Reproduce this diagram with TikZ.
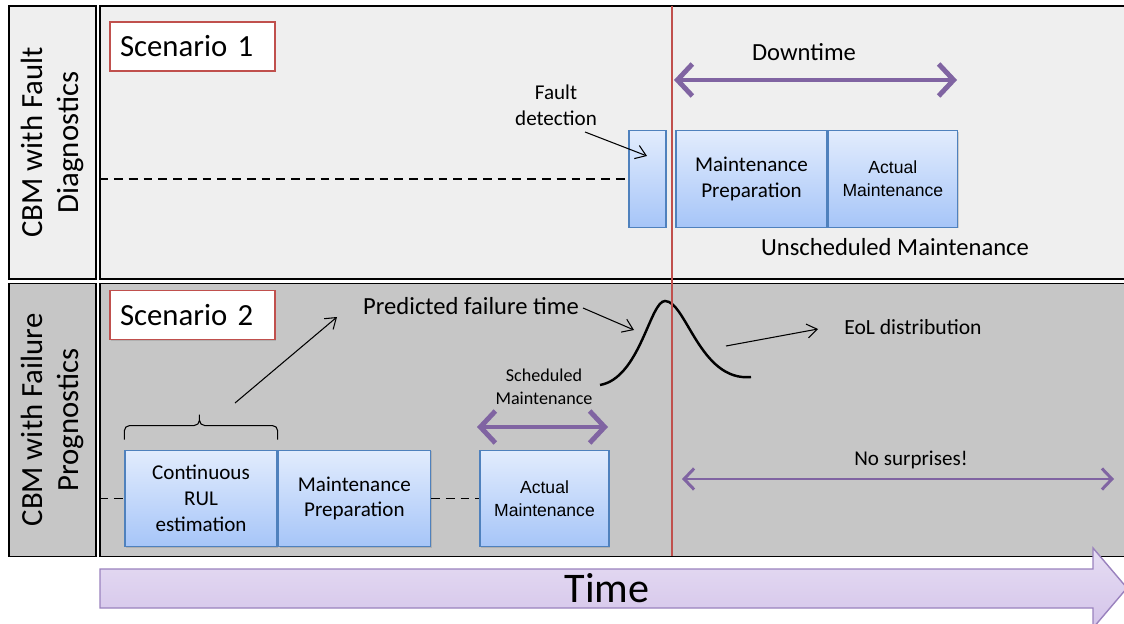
\documentclass[tikz,border=0pt]{standalone}
\usepackage{fontspec}
\setmainfont{Carlito}
\newfontfamily\boxfont{Liberation Sans}
\usetikzlibrary{arrows.meta,calc,positioning,shadows}
\definecolor{failred}{HTML}{C0504D}
\definecolor{tlpurple}{HTML}{8064A2}
\definecolor{blkedge}{HTML}{4F81BD}
\definecolor{blktop}{HTML}{E2ECFD}
\definecolor{blkbot}{HTML}{A6C5F8}
\definecolor{lightpanel}{HTML}{EFEFEF}
\definecolor{darkpanel}{HTML}{C6C6C6}
\definecolor{timetop}{HTML}{E6DDF3}
\definecolor{timebot}{HTML}{D4C4EA}
\definecolor{timeedge}{HTML}{9A82BE}
\tikzset{
  >={Straight Barb[length=2mm,width=2.8mm]},
  panel/.style={draw,line width=1pt,inner sep=0pt,minimum height=5.46cm},
  lab/.style={panel,minimum width=5.46cm,minimum height=1.74cm,rotate=90,align=center,font=\fontsize{17.5}{21}\selectfont},
  scen/.style={draw=failred,line width=0.8pt,fill=white,minimum width=3.3cm,minimum height=0.98cm,
    text width=2.9cm,align=left,font=\fontsize{17.5}{21}\selectfont,
    drop shadow={shadow xshift=0.6pt,shadow yshift=-0.6pt,opacity=0.3}},
  blk/.style={draw=blkedge,line width=0.8pt,top color=blktop,bottom color=blkbot,minimum height=1.93cm,
    inner sep=0pt,align=center,font=\fontsize{12}{14.7}\selectfont,
    drop shadow={shadow xshift=0.7pt,shadow yshift=-0.7pt,opacity=0.3}},
  act/.style={blk,minimum width=2.58cm,font=\boxfont\fontsize{10}{13}\selectfont},
  txt/.style={align=center,inner sep=0pt},
  dline/.style={dash pattern=on 5pt off 3.4pt,line width=1.1pt},
  ptr/.style={->,line width=0.6pt},
  wide/.style={tlpurple,line width=2.8pt,{Straight Barb[length=3mm,width=6.4mm]}-{Straight Barb[length=3mm,width=6.4mm]}},
  span/.style={tlpurple,line width=1.7pt,{Straight Barb[length=2mm,width=4.2mm]}-{Straight Barb[length=2mm,width=4.2mm]}},
}
\begin{document}
\begin{tikzpicture}[x=0.02cm,y=-0.02cm]
\useasboundingbox[fill=white] (0,0) rectangle (1124,624);
% the two scenario bands
\node[lab,fill=lightpanel] (lab1) at (52.5,142.5) {CBM with Fault\\Diagnostics};
\node[lab,fill=darkpanel] (lab2) at (52.5,420) {CBM with Failure\\Prognostics};
\node[panel,fill=lightpanel,minimum width=20.6cm] (pan1) at (615,142.5) {};
\node[panel,fill=darkpanel,minimum width=20.6cm] (pan2) at (615,420) {};
\node[scen] (sc1) at (192.5,46.5) {Scenario 1};
\node[scen] (sc2) at (192.5,315) {Scenario 2};

% scenario 1
\node[blk,minimum width=0.74cm] (fd) at (647.5,179) {};
\node[blk,minimum width=3.02cm] (mp1) at (751.5,179) {Maintenance\\Preparation};
\node[act,right=0pt of mp1] (am1) {Actual\\Maintenance};
\draw[dline] (pan1.west |- fd.west) -- (fd.west);
\node[txt,font=\fontsize{14}{17}\selectfont] (dtl) at (804,52) {Downtime};
\node[txt,font=\fontsize{12}{14.7}\selectfont] (fdl) at (556,105) {Fault\\detection};
\node[txt,font=\fontsize{14}{17}\selectfont] (usm) at (895,247) {Unscheduled Maintenance};
\coordinate (dt1) at (674,80);
\coordinate (dt2) at (957,80);
\draw[wide] (dt1) -- (dt2);
\coordinate (fa1) at (585,132);
\coordinate (fa2) at (647,156);
\draw[ptr] (fa1) -- (fa2);

% scenario 2
\node[blk,minimum width=3.04cm] (rul) at (201,498.5) {Continuous\\RUL\\estimation};
\node[blk,minimum width=3.04cm,right=0pt of rul] (mp2) {Maintenance\\Preparation};
\node[act] (am2) at (544.5,498.5) {Actual\\Maintenance};
\draw[dline] (pan2.west |- rul.west) -- (rul.west);
\draw[dline] (mp2.east) -- (am2.west);
% square brace over the RUL block
\coordinate (br1) at ([yshift=5.7pt]rul.north west);
\coordinate (br2) at ([yshift=5.7pt]rul.north east);
\coordinate (brt) at ($(br1)!0.49!(br2)+(0,-28)$);
\draw[line width=0.6pt,rounded corners=3pt] (br1) -- ++(0,-14) -| (brt) |- ($(br2)+(0,-14)$) -- (br2);
\node[txt,font=\fontsize{14}{17}\selectfont] (pft) at (471,306) {Predicted failure time};
\node[txt,font=\fontsize{12.3}{15}\selectfont] (eol) at (913,327) {EoL distribution};
\node[txt,font=\fontsize{10.3}{13}\selectfont] (schl) at (544,387) {Scheduled\\Maintenance};
\node[txt,font=\fontsize{12}{15}\selectfont] (nsl) at (911,460) {No surprises!};
\coordinate (ba1) at (235,403);
\coordinate (ba2) at (337,317);
\draw[ptr] (ba1) -- (ba2);
\coordinate (pa1) at (583,308);
\coordinate (pa2) at (634,330);
\draw[ptr] (pa1) -- (pa2);
\coordinate (ea1) at (726,346);
\coordinate (ea2) at (818,329);
\draw[ptr] (ea1) -- (ea2);
\draw[line width=1.4pt] (600,385) .. controls (640,378) and (650,301) .. (665,301)
  .. controls (686,301) and (700,382) .. (751,377);
\coordinate (sm1) at (477,427);
\coordinate (sm2) at (608,427);
\draw[wide] (sm1) -- (sm2);
\coordinate (ns1) at (682,479);
\coordinate (ns2) at (1114,479);
\draw[span] (ns1) -- (ns2);

% failure instant
\draw[failred,line width=1.2pt] (672,6) -- (672,556);

% time axis
\path[draw=timeedge,line width=0.8pt,top color=timetop,bottom color=timebot]
  (100,569) -- (1093,569) -- (1093,548) -- (1127,588) -- (1093,628) -- (1093,608) -- (100,608) -- cycle;
\node[txt,font=\fontsize{24}{28}\selectfont] (tml) at (607,588) {Time};
\end{tikzpicture}
\end{document}
